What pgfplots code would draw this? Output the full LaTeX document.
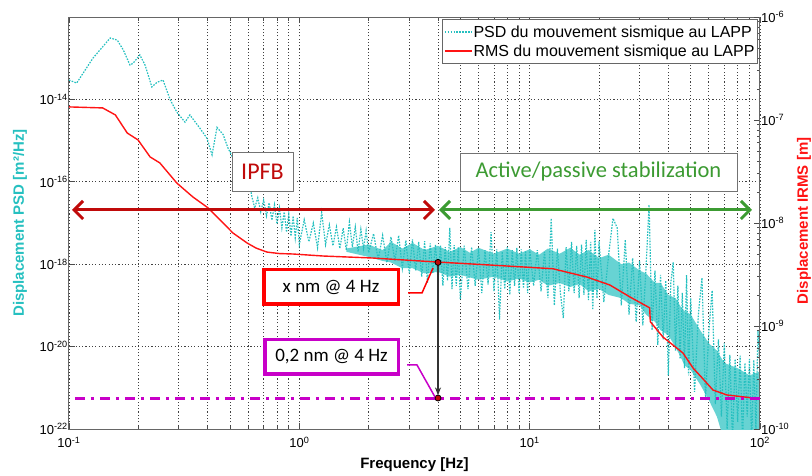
\documentclass[border=0pt]{standalone}
\usepackage{pgfplots}
\pgfplotsset{compat=1.18}
\usepackage{fontspec}
\setmainfont{Liberation Sans}
\newfontfamily\boxfont{Carlito}
\usetikzlibrary{arrows.meta}
\definecolor{psdc}{RGB}{38,192,192}
\definecolor{rmsc}{RGB}{255,20,20}
\definecolor{ipfbred}{RGB}{192,10,10}
\definecolor{actgreen}{RGB}{60,155,50}
\definecolor{mag}{RGB}{200,0,200}
\begin{document}
\begin{tikzpicture}
\begin{axis}[
  at={(0pt,0pt)}, anchor=south west,
  scale only axis, width=691pt, height=412pt,
  xmode=log, ymode=log, xmin=0.1, xmax=100,
  axis line style={black!60, line width=1pt},
  tick style={black!70, line width=0.8pt},
  major tick length=6pt, minor tick length=3.5pt,
  tick align=inside,
  ticklabel style={font=\fontsize{13}{13}\selectfont},
  ymin=1e-22, ymax=1e-12,
  xtick={0.1,1,10,100},
  xticklabels={10\textsuperscript{-1},10\textsuperscript{0},10\textsuperscript{1},10\textsuperscript{2}},
  ytick={1e-22,1e-20,1e-18,1e-16,1e-14},
  yticklabels={10\textsuperscript{-22},10\textsuperscript{-20},10\textsuperscript{-18},10\textsuperscript{-16},10\textsuperscript{-14}},
  yminorticks=false,
  ytick pos=left,
  xmajorgrids, xminorgrids, ymajorgrids,
  grid style={black!75, line width=0.9pt, dash pattern=on 1.1pt off 2.2pt},
  minor grid style={black!75, line width=0.9pt, dash pattern=on 1.1pt off 2.2pt},
  yticklabel style={inner xsep=1pt},
  xticklabel style={inner ysep=2pt, yshift=-6pt},
  xlabel={\textbf{Frequency [Hz]}},
  xlabel style={at={(axis description cs:0.5,0)}, anchor=north, inner sep=0pt, yshift=-28pt, font=\fontsize{15}{15}\selectfont},
  ylabel={\textbf{Displacement PSD [m²/Hz]}},
  ylabel style={at={(axis description cs:-0.071,0.5)}, anchor=center, text=psdc, font=\fontsize{15}{15}\selectfont},
]
% dense core of the PSD band above a few Hz
\addplot[fill=psdc!70, draw=none] coordinates {
(1.6,2.4e-18) (2.0,3.0e-18) (2.3,2.2e-18) (2.5,3.5e-18) (2.8,2.4e-18) (3.1,3.3e-18)
(3.5,2.2e-18) (4,2.8e-18) (4.5,2.0e-18) (5,2.6e-18) (5.5,1.9e-18) (6,2.5e-18)
(7,1.8e-18) (8,2.4e-18) (9,1.8e-18) (10,2.3e-18) (11,1.7e-18) (12,2.4e-18)
(13.5,1.8e-18) (15,2.5e-18) (16.5,1.7e-18) (18,2.2e-18) (20,1.4e-18) (22,1.7e-18)
(25,1.0e-18) (27,1.1e-18) (30,7e-19) (32,6e-19) (35,3.5e-19) (37,3.5e-19)
(40,1.8e-19) (43,1.5e-19) (46,8e-20) (50,6e-20) (55,2.5e-20) (60,1.2e-20)
(65,8e-21) (70,4e-21) (80,3e-21) (90,2e-21) (100,2.5e-21)
(100,5e-23) (70,5e-23) (65,2e-22) (60,5e-22) (55,1.2e-21) (50,2.7e-21)
(47,3.5e-21) (45,6e-21) (42,1.2e-20) (40,1.9e-20) (37,2.5e-20) (35,4e-20)
(32,6e-20) (30,1e-19) (27,1.1e-19) (25,1.5e-19) (22,1.8e-19) (20,2.5e-19)
(18,2.2e-19) (16.5,3.3e-19) (15,2.8e-19) (13.5,3.5e-19) (12,3e-19) (11,4.2e-19)
(10,3.6e-19) (9,4.5e-19) (8,3.8e-19) (7,5e-19) (6,4.2e-19) (5,5.5e-19)
(4.5,5e-19) (4,6.5e-19) (3.5,6e-19) (3.1,8e-19) (2.8,8e-19) (2.5,1.1e-18)
(2.3,1.2e-18) (2.0,1.5e-18) (1.6,2.0e-18)
} -- cycle;
\addplot[psdc, line width=1.2pt, dash pattern=on 1.6pt off 1.3pt] coordinates {
(0.100,2.95e-14) (0.108,2.5e-14) (0.127,1.0e-13) (0.151,3.1e-13) (0.162,2.75e-13)
(0.172,1.6e-13) (0.184,6.8e-14) (0.190,7.6e-14) (0.203,1.2e-13) (0.214,6.8e-14)
(0.229,2.0e-14) (0.241,2.6e-14) (0.256,2.95e-14) (0.275,9.8e-15) (0.294,4.9e-15)
(0.319,2.8e-15) (0.335,4.2e-15) (0.370,2.0e-15) (0.397,1.15e-15) (0.418,4.5e-16)
(0.439,2.1e-15) (0.467,1.4e-15) (0.490,6.6e-16) (0.515,3.8e-16) (0.54,2.0e-16)
(0.56,3.0e-16) (0.58,1.0e-16) (0.60,1.5e-16)
(0.62,4.8e-17) (0.64,2.3e-17) (0.66,4.1e-17) (0.68,1.86e-17) (0.70,3.6e-17)
(0.72,1.48e-17) (0.74,3.1e-17) (0.76,1.17e-17) (0.78,2.75e-17) (0.80,9.5e-18)
(0.82,2.3e-17) (0.84,7.6e-18) (0.86,1.86e-17) (0.88,6.0e-18) (0.90,1.66e-17)
(0.92,4.8e-18) (0.94,1.48e-17) (0.96,4.4e-18) (0.98,1.32e-17)
(1.00,3.0e-18) (1.05,1.2e-17) (1.10,3.5e-18) (1.15,1.0e-17) (1.20,2.5e-18)
(1.25,1.8e-17) (1.30,3.0e-18) (1.35,9.0e-18) (1.40,2.8e-18) (1.45,8.0e-18)
(1.50,2.4e-18) (1.55,7.5e-18) (1.60,2.2e-18) (1.65,1.05e-17) (1.70,2.6e-18)
(1.75,8.0e-18) (1.80,2.0e-18) (1.85,7.0e-18) (1.90,2.4e-18) (1.95,6.5e-18)
(2.00,1.9e-18) (2.1,5.5e-18) (2.2,1.3e-18) (2.3,5.0e-18) (2.4,1.1e-18)
(2.5,4.6e-18) (2.6,1.2e-18) (2.7,5.0e-18) (2.8,8.0e-19) (2.9,3.8e-18)
(3.0,6.0e-19) (3.1,4.0e-18) (3.2,7.0e-19) (3.3,3.5e-18) (3.4,5.0e-19)
(3.5,3.6e-18) (3.6,3.5e-19) (3.7,3.2e-18) (3.8,6.0e-19) (3.9,3.0e-18)
(4.0,4.0e-19) (4.1,2.8e-18) (4.2,3.0e-19) (4.3,2.6e-18) (4.4,4.0e-19)
(4.5,7.6e-18) (4.6,2.5e-19) (4.7,2.9e-18) (4.8,3.0e-19) (4.9,2.6e-18)
(5.0,1.4e-19) (5.2,2.8e-18) (5.4,2.5e-19) (5.6,2.6e-18) (5.8,3.0e-19)
(6.0,2.4e-18) (6.2,2.0e-19) (6.4,2.2e-18) (6.6,3.2e-19) (6.8,6.0e-18)
(7.0,2.2e-19) (7.2,2.3e-18) (7.4,4.5e-20) (7.6,2.0e-18) (7.8,2.5e-19)
(8.0,2.6e-18) (8.2,1.8e-19) (8.4,2.2e-18) (8.6,3.0e-19) (8.8,2.5e-18)
(9.0,2.0e-19) (9.2,2.3e-18) (9.4,2.6e-19) (9.6,2.1e-18) (9.8,2.0e-19)
(10.0,2.3e-18) (10.4,3.0e-19) (10.8,2.2e-18) (11.2,2.2e-19) (11.6,2.0e-18)
(12.0,1.5e-19) (12.4,1.3e-17) (12.8,1.0e-19) (13.2,2.4e-18) (13.6,2.0e-19)
(14.0,4.9e-20) (14.4,2.6e-18) (14.8,2.2e-19) (15.2,3.5e-18) (15.6,2.0e-19)
(16.0,2.8e-18) (16.4,1.5e-19) (16.8,3.0e-18) (17.2,1.8e-19) (17.6,3.9e-18)
(18.0,1.35e-19) (18.4,3.5e-18) (18.8,7.8e-20) (19.2,6.8e-18) (19.6,1.5e-19)
(20.0,3.6e-18) (21,1.2e-19) (22,1.6e-18) (23,1.3e-17) (24,7.6e-18)
(25,1.0e-19) (26,3.9e-18) (27,6.0e-20) (28,1.4e-18) (29,4.0e-20)
(30,1.2e-18) (31,3.3e-20) (32,8.0e-19) (33,2.75e-17) (34,2.5e-20)
(35,7.0e-19) (36,1.1e-20) (37,5.5e-19) (38,1.5e-20) (39,4.0e-19)
(40,2.0e-21) (41,3.5e-19) (42,1.12e-18) (43,8.0e-21) (44,3.0e-19)
(45,5.0e-21) (46,2.0e-19) (47,3.0e-21) (48,5.5e-19) (49,2.0e-21)
(50,1.5e-19) (52,8.0e-22) (54,6.0e-20) (56,4.7e-19) (58,5.0e-22)
(60,2.5e-20) (62,2.3e-19) (64,4.0e-22) (66,1.5e-20) (68,2.0e-22)
(70,1.2e-20) (72,1.0e-22) (74,6.3e-21) (76,5.0e-23) (78,5.0e-21)
(80,1.5e-22) (82,6.0e-21) (84,5.0e-23) (86,4.0e-21) (88,2.0e-22)
(90,5.0e-21) (92,5.0e-23) (94,4.7e-21) (96,1.0e-22) (98,2.5e-20)
(100,3.0e-21)
};
\end{axis}
\begin{axis}[
  at={(0pt,0pt)}, anchor=south west,
  scale only axis, width=691pt, height=412pt,
  xmode=log, ymode=log, xmin=0.1, xmax=100,
  axis line style={black!60, line width=1pt},
  tick style={black!70, line width=0.8pt},
  major tick length=6pt, minor tick length=3.5pt,
  tick align=inside,
  ticklabel style={font=\fontsize{13}{13}\selectfont},
  ymin=1e-10, ymax=1e-6,
  axis x line=none,
  axis y line*=right,
  ytick={1e-10,1e-9,1e-8,1e-7,1e-6},
  yticklabels={10\textsuperscript{-10},10\textsuperscript{-9},10\textsuperscript{-8},10\textsuperscript{-7},10\textsuperscript{-6}},
  yticklabel style={inner xsep=1pt},
  ylabel={\textbf{Displacement IRMS [m]}},
  ylabel style={at={(axis description cs:1.0637,0.505)}, anchor=center, text=rmsc, font=\fontsize{15}{15}\selectfont},
  legend style={at={(0.997,0.995)}, anchor=north east, draw=black!60, line width=0.8pt, fill=white,
    font=\fontsize{16}{16}\selectfont, row sep=4pt, inner xsep=2pt, inner ysep=5pt,
    nodes={inner sep=1pt}},
  legend cell align=left,
  legend image code/.code={\draw[#1] (0pt,0pt) -- (27pt,0pt);},
]
\addlegendimage{psdc, line width=1.2pt, dash pattern=on 1.6pt off 1.3pt}
\addlegendentry{PSD du mouvement sismique au LAPP}
\addlegendimage{rmsc, line width=1.4pt}
\addlegendentry{RMS du mouvement sismique au LAPP}
\addplot[rmsc, line width=1.4pt, forget plot] coordinates {
(0.1,1.34e-7) (0.14,1.31e-7) (0.159,1.12e-7) (0.179,7.48e-8) (0.1995,6.4e-8)
(0.225,4.38e-8) (0.248,3.83e-8) (0.294,2.44e-8) (0.345,1.79e-8) (0.402,1.40e-8)
(0.453,1.07e-8) (0.515,8.0e-9) (0.593,6.4e-9) (0.65,5.7e-9) (0.724,5.22e-9)
(0.82,5.05e-9) (0.94,5.0e-9) (1.27,4.78e-9) (2.09,4.57e-9) (3.96,4.18e-9)
(6.73,3.91e-9) (11.1,3.66e-9) (12.6,3.6e-9) (17.7,2.99e-9) (22.3,2.50e-9)
(27.3,1.91e-9) (33.2,1.5e-9) (33.4,1.1e-9) (37.9,7.82e-10) (46.3,5.47e-10)
(51.2,3.91e-10) (56.1,3.13e-10) (62.5,2.39e-10) (71.9,2.14e-10) (93.3,2.0e-10)
(100,1.95e-10)
};
\addplot[mag, line width=3pt, dash pattern=on 10pt off 6pt on 3pt off 6pt, forget plot] coordinates {(0.106,2e-10) (100,2e-10)};
\draw[black!80, line width=1.5pt, -{Stealth[length=8pt,width=6pt]}] (axis cs:4,4.15e-9) -- (axis cs:4,2.12e-10);
\addplot[only marks, mark=*, mark size=3pt, mark options={fill=ipfbred, draw=black, line width=0.8pt}, forget plot] coordinates {(4,4.15e-9) (4,2e-10)};
\end{axis}
\begin{scope}[x=1pt,y=1pt]
\node[draw=black!55, line width=0.9pt, fill=white, minimum width=61pt, minimum height=39pt, inner sep=0pt, text=ipfbred, font=\boxfont\fontsize{24}{24}\selectfont] at (193.5,257.5) {IPFB};
\node[draw=black!55, line width=0.9pt, fill=white, minimum width=277pt, minimum height=38pt, inner sep=0pt, text=actgreen, font=\boxfont\fontsize{22.5}{22.5}\selectfont] at (529.5,257) {Active/passive stabilization};
\draw[ipfbred, line width=3pt, {Straight Barb[length=9pt,width=18pt]}-{Straight Barb[length=9pt,width=18pt]}] (3,219) -- (366,219);
\draw[actgreen, line width=3pt, {Straight Barb[length=9pt,width=18pt]}-{Straight Barb[length=9pt,width=18pt]}] (370,219) -- (683,219);
\node[draw=red, line width=3.5pt, fill=white, minimum width=134.5pt, minimum height=34.5pt, inner sep=0pt, font=\boxfont\fontsize{19}{19}\selectfont] at (262,142) {x nm @ 4 Hz};
\draw[red, line width=1.5pt] (339,136) -- (353,136) -- (364,161);
\node[draw=mag, line width=3.5pt, fill=white, minimum width=133.5pt, minimum height=34.5pt, inner sep=0pt, font=\boxfont\fontsize{19}{19}\selectfont] at (262.5,72) {0,2 nm @ 4 Hz};
\draw[mag, line width=1.5pt] (338,64) -- (348,64) -- (366,32);
\end{scope}
\pgfresetboundingbox
\path[use as bounding box] (-69pt,-47pt) rectangle (743pt,429pt);
\end{tikzpicture}
\end{document}
